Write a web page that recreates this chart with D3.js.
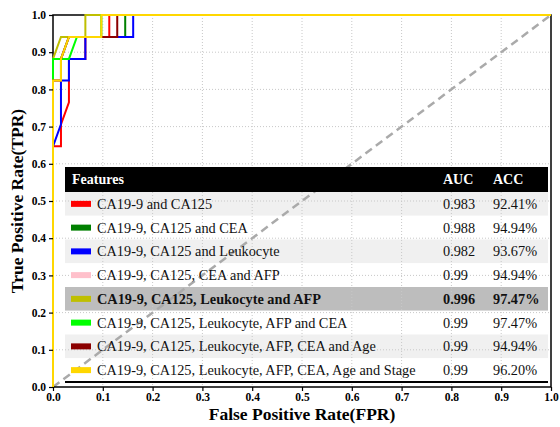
<!doctype html>
<html lang="en">
<head>
  <meta charset="utf-8">
  <title>ROC curves</title>
  <script type="text/javascript" src="https://cdnjs.cloudflare.com/ajax/libs/d3/7.8.5/d3.min.js"></script>
  <style>
    body { margin: 0; background: #fff; }
    text { font-family: "Liberation Serif", "Times New Roman", serif; }
  </style>
</head>
<body>
	<svg width="560" height="427" id="svg"></svg>
</body>

<script type="text/javascript">

	// table rows
	var features = ['CA19-9 and CA125',
		'CA19-9, CA125 and CEA',
		'CA19-9, CA125 and Leukocyte',
		'CA19-9, CA125, CEA and AFP',
		'CA19-9, CA125, Leukocyte and AFP',
		'CA19-9, CA125, Leukocyte, AFP and CEA',
		'CA19-9, CA125, Leukocyte, AFP, CEA and Age',
		'CA19-9, CA125, Leukocyte, AFP, CEA, Age and Stage'];
	var auc = ['0.983', '0.988', '0.982', '0.99', '0.996', '0.99', '0.99', '0.99'];
	var acc = ['92.41%', '94.94%', '93.67%', '94.94%', '97.47%', '97.47%', '94.94%', '96.20%'];
	var colors = ['red', 'green', 'blue', 'pink', '#bfbf00', 'lime', 'darkred', 'gold'];
	var best = 4;

	// ROC points [FPR, TPR]
	var rocRed = [[0,0],[0,0.647],[0.016,0.647],[0.016,0.706],[0.032,0.765],[0.032,0.882],[0.065,0.882],[0.065,0.941],[0.113,0.941],[0.113,1],[1,1]];
	var rocGreen = [[0,0],[0,0.882],[0.016,0.882],[0.032,0.941],[0.145,0.941],[0.145,1],[1,1]];
	var rocBlue = [[0,0],[0,0.647],[0.016,0.706],[0.016,0.824],[0.032,0.824],[0.032,0.882],[0.065,0.882],[0.065,0.941],[0.161,0.941],[0.161,1],[1,1]];
	var rocPink = [[0,0],[0,0.824],[0.016,0.824],[0.016,0.882],[0.032,0.941],[0.097,0.941],[0.097,1],[1,1]];
	var rocOlive = [[0,0],[0,0.882],[0.016,0.941],[0.065,0.941],[0.065,1],[1,1]];
	var rocLime = [[0,0],[0,0.882],[0.032,0.882],[0.048,0.941],[0.097,0.941],[0.097,1],[1,1]];
	var rocDarkred = [[0,0],[0,0.824],[0.016,0.824],[0.016,0.882],[0.032,0.941],[0.129,0.941],[0.129,1],[1,1]];
	var rocGold = [[0,0],[0,0.824],[0.016,0.824],[0.016,0.882],[0.032,0.941],[0.097,0.941],[0.097,1],[1,1]];
	var curves = [rocRed, rocGreen, rocBlue, rocPink, rocOlive, rocLime, rocDarkred, rocGold];

	var ticks = [0, 0.1, 0.2, 0.3, 0.4, 0.5, 0.6, 0.7, 0.8, 0.9, 1.0];

	// plot box ("top" is taken by window.top, so use other names)
	var mLeft = 53, mTop = 15, w = 498, h = 372;

	var x = d3.scaleLinear().domain([0, 1]).range([mLeft, mLeft + w]);
	var y = d3.scaleLinear().domain([0, 1]).range([mTop + h, mTop]);

	var svg = d3.select('#svg');

	// table body rows (under grid)
	var tLeft = 65, tRight = 548, headTop = 167, headH = 25, rowH = 23.75;
	var rowY = d3.scaleLinear().domain([0, 1]).range([headTop + headH, headTop + headH + rowH]);

	svg.selectAll('.rowbg')
		.data(features)
		.enter()
		.append('rect')
		.attr('class', 'rowbg')
		.attr('x', tLeft)
		.attr('y', function(d, i) { return rowY(i); })
		.attr('width', tRight - tLeft)
		.attr('height', rowH)
		.attr('fill', function(d, i) {
			if (i == best) return '#bdbdbd';
			return (i % 2 == 0) ? '#f0f0f0' : '#ffffff';
		});

	// grid
	svg.append('g')
		.selectAll('line')
		.data(ticks.slice(1, 10))
		.enter()
		.append('line')
		.attr('x1', function(d) { return x(d); })
		.attr('x2', function(d) { return x(d); })
		.attr('y1', mTop)
		.attr('y2', mTop + h)
		.attr('stroke', '#c8c8c8')
		.attr('stroke-width', 1)
		.attr('stroke-dasharray', '1,2');

	svg.append('g')
		.selectAll('line')
		.data(ticks.slice(1, 10))
		.enter()
		.append('line')
		.attr('y1', function(d) { return y(d); })
		.attr('y2', function(d) { return y(d); })
		.attr('x1', mLeft)
		.attr('x2', mLeft + w)
		.attr('stroke', '#c8c8c8')
		.attr('stroke-width', 1)
		.attr('stroke-dasharray', '1,2');

	// chance line
	svg.append('line')
		.attr('x1', x(0)).attr('y1', y(0))
		.attr('x2', x(1)).attr('y2', y(1))
		.attr('stroke', '#aaaaaa')
		.attr('stroke-width', 2.5)
		.attr('stroke-dasharray', '8,5');

	// frame
	svg.append('rect')
		.attr('x', mLeft).attr('y', mTop)
		.attr('width', w).attr('height', h)
		.attr('fill', 'none')
		.attr('stroke', '#000')
		.attr('stroke-width', 1.5);

	// curves
	var line = d3.line()
		.x(function(d) { return x(d[0]); })
		.y(function(d) { return y(d[1]); });

	svg.selectAll('.roc')
		.data(curves)
		.enter()
		.append('path')
		.attr('class', 'roc')
		.attr('d', line)
		.attr('fill', 'none')
		.attr('stroke', function(d, i) { return colors[i]; })
		.attr('stroke-width', 2);

	// axes
	var xAxis = svg.append('g')
		.attr('transform', 'translate(0,' + (mTop + h) + ')')
		.call(d3.axisBottom(x).tickValues(ticks).tickFormat(d3.format('.1f')).tickSize(4).tickSizeOuter(0).tickPadding(2));
	var yAxis = svg.append('g')
		.attr('transform', 'translate(' + mLeft + ',0)')
		.call(d3.axisLeft(y).tickValues(ticks).tickFormat(d3.format('.1f')).tickSize(4).tickSizeOuter(0).tickPadding(3));

	[xAxis, yAxis].forEach(function(a) {
		a.select('.domain').remove();
		a.selectAll('text')
			.attr('font-family', '"Liberation Serif", serif')
			.attr('font-size', 11.5)
			.attr('font-weight', 'bold')
			.attr('fill', '#000');
		a.selectAll('line').attr('stroke', '#000').attr('stroke-width', 1.2);
	});

	// table header
	svg.append('rect')
		.attr('x', tLeft).attr('y', headTop)
		.attr('width', tRight - tLeft).attr('height', headH)
		.attr('fill', '#000');

	var colX = [72, 443, 493];
	['Features', 'AUC', 'ACC'].forEach(function(t, i) {
		svg.append('text')
			.attr('x', colX[i])
			.attr('y', headTop + headH / 2)
			.attr('dominant-baseline', 'central')
			.attr('font-size', 14)
			.attr('font-weight', 'bold')
			.attr('fill', '#fff')
			.text(t);
	});

	// swatches
	svg.selectAll('.swatch')
		.data(colors)
		.enter()
		.append('rect')
		.attr('class', 'swatch')
		.attr('x', 71)
		.attr('y', function(d, i) { return rowY(i + 0.5) - 3; })
		.attr('width', 20)
		.attr('height', 6)
		.attr('fill', function(d) { return d; });

	var cols = [features, auc, acc];
	var textX = [97, 443, 493];
	cols.forEach(function(col, c) {
		svg.selectAll('.col' + c)
			.data(col)
			.enter()
			.append('text')
			.attr('class', 'col' + c)
			.attr('x', textX[c])
			.attr('y', function(d, i) { return rowY(i + 0.5); })
			.attr('dominant-baseline', 'central')
			.attr('font-size', 14.3)
			.attr('font-weight', function(d, i) { return i == best ? 'bold' : 'normal'; })
			.attr('fill', '#111')
			.text(function(d) { return d; });
	});

	// table bottom rule
	svg.append('line')
		.attr('x1', tLeft).attr('x2', tRight)
		.attr('y1', rowY(8)).attr('y2', rowY(8))
		.attr('stroke', '#000')
		.attr('stroke-width', 2);

	// axis titles
	svg.append('text')
		.attr('x', mLeft + w / 2)
		.attr('y', 420)
		.attr('text-anchor', 'middle')
		.attr('font-size', 17.5)
		.attr('font-weight', 'bold')
		.text('False Positive Rate(FPR)');

	svg.append('text')
		.attr('transform', 'translate(23,' + (mTop + h / 2) + ') rotate(-90)')
		.attr('text-anchor', 'middle')
		.attr('font-size', 17.5)
		.attr('font-weight', 'bold')
		.text('True Positive Rate(TPR)');

</script>
</html>
